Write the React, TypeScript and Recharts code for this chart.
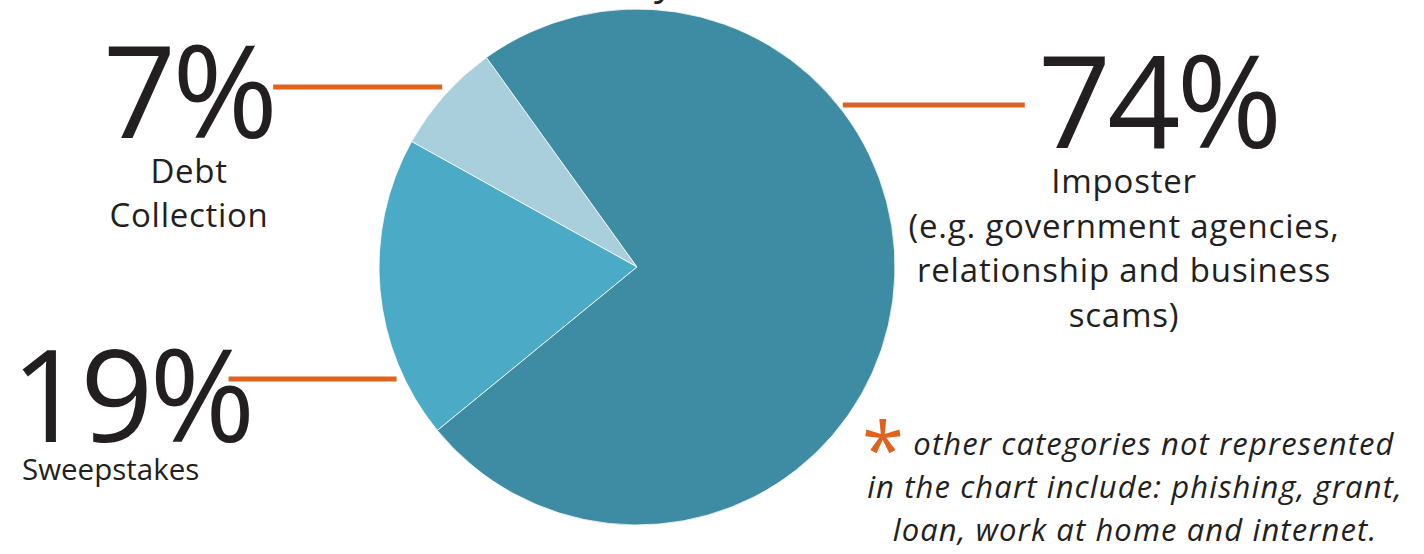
import React from 'react';
import { PieChart, Pie, Cell } from 'recharts';

const categories = ['Debt Collection', 'Sweepstakes', 'Imposter'];
const shares = [7, 19, 74];
const sliceColors = ['#a9cedc', '#4babc6', '#3e8ca4'];
const captions = [
  ['Debt', 'Collection'],
  ['Sweepstakes'],
  ['Imposter', '(e.g. government agencies,', 'relationship and business', 'scams)'],
];
const footnoteLines = [
  'other categories not represented',
  'in the chart include: phishing, grant,',
  'loan, work at home and internet.',
];

const data = categories.map((name, i) => ({ name, value: shares[i] }));

const FONT = '"Open Sans", "Noto Sans", sans-serif';
const INK = '#231f20';
const ORANGE = '#e0621e';

// where each callout sits around the pie (same order as categories)
const callouts = [
  { side: 'left', lineY: 87, gap: 10, lineLen: 169, pctX: 103, pctY: 138, capX: 189, capY: 183, capSize: 33, capSpacing: 0.7, capStep: 44, anchor: 'middle' },
  { side: 'left', lineY: 379, gap: 8, lineLen: 168, pctX: 11, pctY: 442, capX: 22, capY: 480, capSize: 29.5, capSpacing: 0, capStep: 0, anchor: 'start' },
  { side: 'right', lineY: 105, gap: 5, lineLen: 182, pctX: 1038, pctY: 148, capX: 1124, capY: 193, capSize: 33, capSpacing: 0.8, capStep: 44.5, anchor: 'middle' },
];

const renderCallout = (props: any) => {
  const { cx, cy, outerRadius, index, value } = props;
  const c = callouts[index];
  const dy = c.lineY - cy;
  const half = Math.sqrt(Math.max(outerRadius * outerRadius - dy * dy, 0));
  const x1 = c.side === 'left' ? cx - half - c.gap : cx + half + c.gap;
  const x0 = c.side === 'left' ? x1 - c.lineLen : x1 + c.lineLen;
  return (
    <g key={`callout-${index}`}>
      <line x1={x0} y1={c.lineY} x2={x1} y2={c.lineY} stroke={ORANGE} strokeWidth={5} />
      <text x={c.pctX} y={c.pctY} fill={INK} fontFamily={FONT} fontSize={128} letterSpacing={-4}>
        {`${value}%`}
      </text>
      {captions[index].map((line, i) => (
        <text
          key={line}
          x={c.capX}
          y={c.capY + i * c.capStep}
          textAnchor={c.anchor}
          fill={INK}
          fontFamily={FONT}
          fontSize={c.capSize}
          letterSpacing={c.capSpacing}
        >
          {line}
        </text>
      ))}
    </g>
  );
};

export default function App() {
  return (
    <div style={{ position: 'absolute', left: 0, top: 0, width: 1424, height: 554, background: '#fff' }}>
      <PieChart width={1424} height={554} margin={{ top: 0, right: 0, bottom: 0, left: 0 }}>
        {/* tail of the title that is cut off above the frame */}
        <text x={654} y={-6} fill={INK} fontFamily={FONT} fontSize={40}>y</text>
        <Pie
          data={data}
          dataKey="value"
          nameKey="name"
          cx={637}
          cy={267}
          outerRadius={258}
          startAngle={125.7}
          endAngle={485.7}
          stroke="#ffffff"
          strokeWidth={0.8}
          label={renderCallout}
          labelLine={false}
          isAnimationActive={false}
        >
          {data.map((d, i) => (
            <Cell key={d.name} fill={sliceColors[i]} />
          ))}
        </Pie>
        <text x={862} y={478} fill={ORANGE} fontFamily={FONT} fontSize={76}>*</text>
        {footnoteLines.map((line, i) => (
          <text
            key={line}
            x={i === 0 ? 1154 : 1135}
            y={455 + i * 43}
            textAnchor="middle"
            fill={INK}
            fontFamily={FONT}
            fontStyle="italic"
            fontSize={31}
            letterSpacing={1.1}
          >
            {line}
          </text>
        ))}
      </PieChart>
    </div>
  );
}
